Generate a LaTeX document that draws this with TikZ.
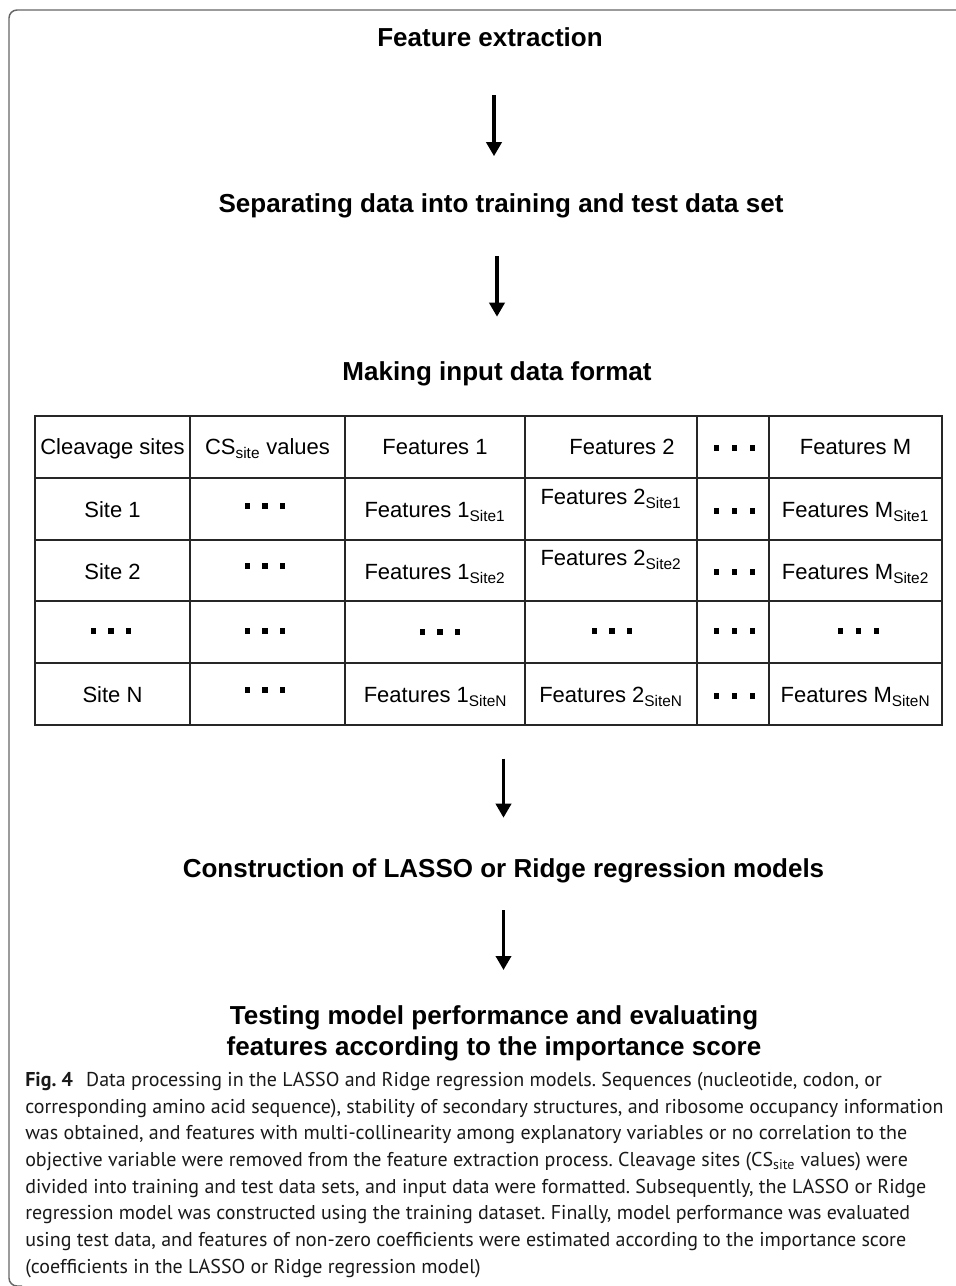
\documentclass[tikz,border=0pt]{standalone}
\usepackage{fontspec}
\setmainfont{Liberation Sans}
\newfontfamily\capfont{PT Sans}
\usetikzlibrary{arrows.meta}

\newcommand{\sqdots}{\rule{3.9pt}{3.9pt}\hspace{9.4pt}\rule{3.9pt}{3.9pt}\hspace{9.4pt}\rule{3.9pt}{3.9pt}}

\begin{document}
\frenchspacing
\begin{tikzpicture}[x=0.75pt, y=-0.75pt,
    head/.style={font=\fontsize{19.5}{23.25}\selectfont\bfseries, align=center, inner sep=0pt},
    headbox/.style={head, text height=15pt, text depth=4pt},
    cell/.style={font=\fontsize{16.5}{20}\selectfont, inner sep=0pt, text height=12pt, text depth=3.5pt},
    dotcell/.style={inner sep=0pt},
    flow/.style={line width=2.8pt, -{Triangle[width=11.25pt,length=10.5pt]}},
    frame/.style={draw=black!60, line width=1.1pt, rounded corners=6pt},
    grid/.style={draw=black!85, line width=1pt},
    capt/.style={font=\capfont\fontsize{15}{20}\selectfont, align=left, inner sep=0pt, text=black!90}
  ]
  \useasboundingbox (0,0) rectangle (956,1286);

  % outer frame
  \draw[frame] (22,1286) -- (9,1286) -- (9,10) -- (956,10);

  % steps
  \node[headbox] (feat) at (490,39) {Feature extraction};
  \node[headbox] (sep) at (501,205) {Separating data into training and test data set};
  \node[headbox] (make) at (497,373) {Making input data format};
  \node[headbox] (constr) at (503.5,870) {Construction of LASSO or Ridge regression models};
  \node[head, anchor=north] (test) at (494,1005) {Testing model performance and evaluating\\features according to the importance score};

  % table
  \node[grid, minimum width=680.25pt, minimum height=231.75pt, inner sep=0pt] (tab) at (488.5,570.5) {};
  \foreach \cx in {190,345,525,697,769}
    \draw[grid] (\cx,416) -- (\cx,725);
  \foreach \ry in {478,540,601,663}
    \draw[grid] (35,\ry) -- (942,\ry);

  % header row
  \node[cell] (h1) at (112.5,449) {Cleavage sites};
  \node[cell] (h2) at (267.5,449) {CS\textsubscript{site} values};
  \node[cell] (h3) at (435,449) {Features 1};
  \node[cell] (h4) at (622,449) {Features 2};
  \node[dotcell] (h5) at (734.5,448) {\sqdots};
  \node[cell] (h6) at (855.5,449) {Features M};

  % site rows
  \node[cell] (a1) at (112.5,512) {Site 1};
  \node[dotcell] (a2) at (265,506) {\sqdots};
  \node[cell] (a3) at (435,512) {Features 1\textsubscript{Site1}};
  \node[cell] (a4) at (611,499) {Features 2\textsubscript{Site1}};
  \node[dotcell] (a5) at (734.5,511) {\sqdots};
  \node[cell] (a6) at (855.5,512) {Features M\textsubscript{Site1}};

  \node[cell] (b1) at (112.5,574) {Site 2};
  \node[dotcell] (b2) at (265,566) {\sqdots};
  \node[cell] (b3) at (435,574) {Features 1\textsubscript{Site2}};
  \node[cell] (b4) at (611,560) {Features 2\textsubscript{Site2}};
  \node[dotcell] (b5) at (734.5,572) {\sqdots};
  \node[cell] (b6) at (855.5,574) {Features M\textsubscript{Site2}};

  \node[dotcell] (c1) at (111,631) {\sqdots};
  \node[dotcell] (c2) at (265,631) {\sqdots};
  \node[dotcell] (c3) at (440,632) {\sqdots};
  \node[dotcell] (c4) at (612,631) {\sqdots};
  \node[dotcell] (c5) at (734.5,631) {\sqdots};
  \node[dotcell] (c6) at (858.5,631) {\sqdots};

  \node[cell] (d1) at (112.5,697) {Site N};
  \node[dotcell] (d2) at (265,690) {\sqdots};
  \node[cell] (d3) at (435.5,697) {Features 1\textsubscript{SiteN}};
  \node[cell] (d4) at (611,697) {Features 2\textsubscript{SiteN}};
  \node[dotcell] (d5) at (734.5,696) {\sqdots};
  \node[cell] (d6) at (855.5,697) {Features M\textsubscript{SiteN}};

  % arrows between steps
  \draw[flow, shorten <=32.5pt, shorten >=26.9pt] ([xshift=3pt]feat.south) -- ([xshift=3pt]feat.south |- sep.north);
  \draw[flow, shorten <=28.7pt, shorten >=32.5pt] (make.north |- sep.south) -- (make.north);
  \draw[flow, shorten <=24.75pt, shorten >=29.5pt] (constr.north |- tab.south) -- (constr.north);
  \draw[flow, shorten <=20.5pt, shorten >=26.25pt] (constr.south) -- (constr.south |- test.north);

  % caption
  \node[capt, anchor=north west] (cap) at (25,1072) {\textbf{Fig. 4}\hspace{10pt}Data processing in the LASSO and Ridge regression models. Sequences (nucleotide, codon, or\\
    corresponding amino acid sequence), stability of secondary structures, and ribosome occupancy information\\
    was obtained, and features with multi-collinearity among explanatory variables or no correlation to the\\
    objective variable were removed from the feature extraction process. Cleavage sites (CS\textsubscript{site} values) were\\
    divided into training and test data sets, and input data were formatted. Subsequently, the LASSO or Ridge\\
    regression model was constructed using the training dataset. Finally, model performance was evaluated\\
    using test data, and features of non-zero coefficients were estimated according to the importance score\\
    (coefficients in the LASSO or Ridge regression model)};
\end{tikzpicture}
\end{document}
